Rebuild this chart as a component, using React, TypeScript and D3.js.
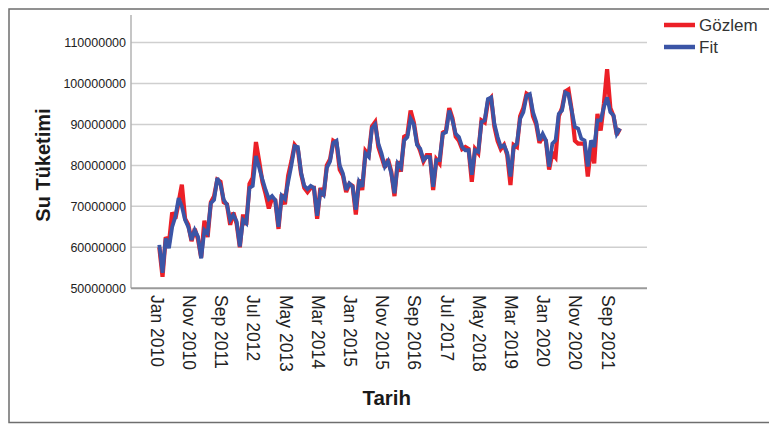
import React from "react";
import * as d3 from "d3";

// Monthly water consumption, Jan 2010 – Dec 2021 (millions)
const gozlem2010 = [60, 52.8, 62.5, 61, 68.5, 67, 71, 75.3, 67, 65.5, 61.5, 64.5];
const gozlem2011 = [62, 57.5, 66.5, 62.5, 71, 72.5, 76.5, 76, 71, 70.5, 65.5, 68.5];
const gozlem2012 = [65.8, 60, 68, 65.5, 75.5, 77, 85.7, 81, 76, 73, 69.5, 72];
const gozlem2013 = [71.5, 64.5, 73, 70.5, 77.5, 81, 85, 84, 78, 74.5, 73.5, 74.5];
const gozlem2014 = [74.5, 67, 74.5, 72.5, 80, 81.5, 86, 85.5, 79, 77.5, 73.5, 75.5];
const gozlem2015 = [75, 68, 76.5, 74, 83.5, 82.5, 89.5, 90.6, 84.5, 82, 79.5, 81.5];
const gozlem2016 = [78.5, 72.5, 81, 78.5, 87, 87.5, 93.4, 90.5, 85.5, 83.5, 81, 82.5];
const gozlem2017 = [82.5, 74, 81.5, 80.5, 88, 88.5, 94, 91.5, 87, 86, 84, 84.5];
const gozlem2018 = [84, 76, 84, 83, 91, 90.5, 95.5, 96.5, 89.5, 86, 84, 85];
const gozlem2019 = [82.5, 75.2, 85, 84.5, 92, 94, 97.5, 97, 92, 90, 85.5, 87];
const gozlem2020 = [86, 79, 83, 82, 92, 94, 98, 98.5, 93.5, 86, 85.3, 85.3];
const gozlem2021 = [85.3, 77.3, 84.5, 80.5, 92.6, 88.5, 95, 103.5, 94, 92, 87.5, 89];

const fit2010 = [60.6, 53.8, 62.2, 59.8, 65, 67.5, 72, 70, 66.7, 65, 61.8, 64.2];
const fit2011 = [62.6, 57.3, 64.2, 63.4, 70.8, 71.6, 76.9, 75.3, 71.6, 70.4, 66.7, 67.9];
const fit2012 = [66.3, 60.2, 66.7, 65.9, 74.5, 75, 82.3, 79.5, 76.6, 74, 71.8, 72.5];
const fit2013 = [71.5, 65, 72.6, 71.8, 76, 80, 84.7, 84.5, 78.3, 75, 74.2, 75];
const fit2014 = [74.5, 67.7, 73.6, 72.8, 79.4, 81, 85.5, 86, 80, 78, 74, 75.6];
const fit2015 = [74.8, 69.2, 76, 74.8, 82.9, 82.1, 89, 90, 85.3, 82.9, 79.7, 81];
const fit2016 = [78.1, 73.2, 80.5, 79.5, 86.1, 86.9, 91.4, 90, 85, 84.1, 81.3, 82.1];
const fit2017 = [82, 74.8, 81.3, 81.3, 87.7, 88.1, 93.4, 91, 87.7, 86.9, 84.5, 83.7];
const fit2018 = [83.7, 77.7, 83.7, 83.3, 90.6, 91, 96.2, 96.6, 90.2, 87, 84.5, 84.9];
const fit2019 = [83, 77.3, 84.5, 85.3, 91.4, 93, 97, 97.4, 93, 90.6, 86.1, 87.7];
const fit2020 = [86.1, 79.7, 85.3, 86.1, 92.6, 93.4, 97.8, 97.4, 93.4, 89.4, 89, 86.5];
const fit2021 = [86.1, 79.7, 86.1, 84.5, 91, 91, 94.2, 96.6, 93, 92.2, 87.7, 89];

const gozlem = [
  ...gozlem2010, ...gozlem2011, ...gozlem2012, ...gozlem2013, ...gozlem2014, ...gozlem2015,
  ...gozlem2016, ...gozlem2017, ...gozlem2018, ...gozlem2019, ...gozlem2020, ...gozlem2021,
].map((v) => v * 1e6);
const fit = [
  ...fit2010, ...fit2011, ...fit2012, ...fit2013, ...fit2014, ...fit2015,
  ...fit2016, ...fit2017, ...fit2018, ...fit2019, ...fit2020, ...fit2021,
].map((v) => v * 1e6);

const monthNames = ["Jan", "Feb", "Mar", "Apr", "May", "Jun", "Jul", "Aug", "Sep", "Oct", "Nov", "Dec"];
const startYear = 2010;
const labelStep = 10; // one label every 10 months
const yTicks = [50000000, 60000000, 70000000, 80000000, 90000000, 100000000, 110000000];

const RED = "#ec2027";
const BLUE = "#3b55a6";
const FONT = "Arial, 'Liberation Sans', sans-serif";

export default function App() {
  const W = 769;
  const H = 424;
  const n = fit.length;
  const x = d3.scaleLinear().domain([0, n - 1]).range([159.3, 620]);
  const y = d3.scaleLinear().domain([50000000, 110000000]).range([288.3, 42.5]);
  const axisLeft = 131;
  const axisRight = 647;

  const line = d3
    .line<number>()
    .x((_, i) => x(i))
    .y((d) => y(d))
    .curve(d3.curveLinear);

  const labelIdx = d3.range(0, n, labelStep);

  return (
    <svg
      width={W}
      height={H}
      style={{ position: "absolute", left: 0, top: 0, background: "#fff" }}
    >
      <rect x={0} y={0} width={W} height={H} fill="#fff" />
      {/* frame */}
      <rect x={9} y={9} width={W + 10} height={413.5} fill="none" stroke="#6e6e6e" strokeWidth={1.5} />

      {/* grid */}
      {yTicks.slice(1).map((t) => (
        <line key={t} x1={axisLeft} x2={axisRight} y1={y(t)} y2={y(t)} stroke="#cfcfcf" strokeWidth={1.5} />
      ))}
      {/* axes */}
      <line x1={axisLeft} x2={axisLeft} y1={15} y2={y(50000000)} stroke="#b3b3b3" strokeWidth={1.5} />
      <line x1={axisLeft} x2={axisRight} y1={y(50000000)} y2={y(50000000)} stroke="#9a9a9a" strokeWidth={2} />

      {/* y labels */}
      {yTicks.map((t) => (
        <text
          key={t}
          x={126}
          y={y(t)}
          dy="0.35em"
          textAnchor="end"
          fontFamily={FONT}
          fontSize={12.5}
          fill="#222"
        >
          {String(t)}
        </text>
      ))}

      {/* x labels */}
      {labelIdx.map((i) => {
        const m = i % 12;
        const yr = startYear + Math.floor(i / 12);
        return (
          <text
            key={i}
            transform={`translate(${x(i) - 2.5},295) rotate(90)`}
            dy="0.35em"
            fontFamily={FONT}
            fontSize={17.5}
            fill="#222"
          >
            {`${monthNames[m]} ${yr}`}
          </text>
        );
      })}

      {/* axis titles */}
      <text
        transform={`translate(43,165) rotate(-90)`}
        dy="0.35em"
        textAnchor="middle"
        fontFamily={FONT}
        fontWeight="bold"
        fontSize={20}
        fill="#1a1a1a"
      >
        Su Tüketimi
      </text>
      <text
        x={386.7}
        y={405}
        textAnchor="middle"
        fontFamily={FONT}
        fontWeight="bold"
        fontSize={20.5}
        fill="#1a1a1a"
      >
        Tarih
      </text>

      {/* series */}
      <path d={line(gozlem) || ""} fill="none" stroke={RED} strokeWidth={4.2} strokeLinejoin="miter" strokeMiterlimit={3} />
      <path d={line(fit) || ""} fill="none" stroke={BLUE} strokeWidth={3.8} strokeLinejoin="miter" strokeMiterlimit={3} />

      {/* legend */}
      <line x1={664} x2={695} y1={25} y2={25} stroke={RED} strokeWidth={4.5} />
      <text x={699} y={25} dy="0.35em" fontFamily={FONT} fontSize={17} fill="#333">
        Gözlem
      </text>
      <line x1={664} x2={695} y1={47} y2={47} stroke={BLUE} strokeWidth={4.5} />
      <text x={699} y={47} dy="0.35em" fontFamily={FONT} fontSize={17} fill="#333">
        Fit
      </text>
    </svg>
  );
}
